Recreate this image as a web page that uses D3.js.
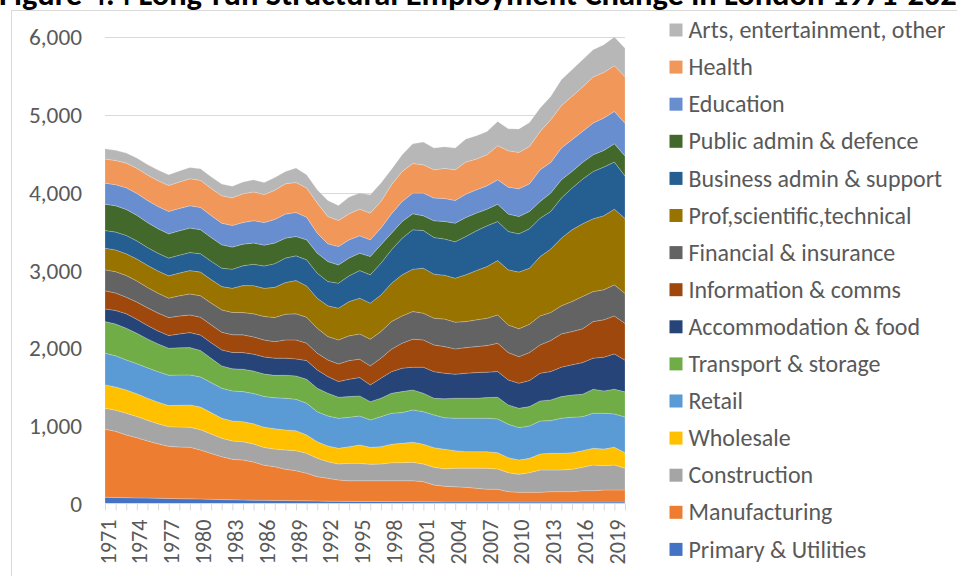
<!DOCTYPE html>
<html><head><meta charset="utf-8">
<script src="https://cdn.jsdelivr.net/npm/d3@7/dist/d3.min.js"></script>
<style>html,body{margin:0;padding:0;background:#fff;overflow:hidden}</style>
</head><body><svg id="c" width="957" height="576"></svg>
<script>
// ---------- DATA ----------
const years = [1971,1972,1973,1974,1975,1976,1977,1978,1979,1980,1981,1982,1983,1984,1985,1986,1987,1988,1989,1990,
  1991,1992,1993,1994,1995,1996,1997,1998,1999,2000,2001,2002,2003,2004,2005,2006,2007,2008,2009,2010,
  2011,2012,2013,2014,2015,2016,2017,2018,2019,2020];
const xTickYears = [1971,1974,1977,1980,1983,1986,1989,1992,1995,1998,2001,2004,2007,2010,2013,2016,2019];
const yTicks = [0,1000,2000,3000,4000,5000,6000];

const seriesNames = ["Primary & Utilities","Manufacturing","Construction","Wholesale","Retail","Transport & storage",
  "Accommodation & food","Information & comms","Financial & insurance","Prof,scientific,technical",
  "Business admin & support","Public admin & defence","Education","Health","Arts, entertainment, other"];

const primary = [80,78,75,72,70,67,65,62,60,58,54,50,48,45,43,42,40,38,36,34,32,30,28,27,26,25,25,24,24,23,22,21,20,20,20,20,20,20,18,18,18,18,18,18,18,18,18,18,18,18];
const manufacturing = [875,850,807,775,735,700,670,665,663,630,590,552,520,515,490,450,434,402,386,355,313,294,274,266,267,268,268,269,269,270,259,217,202,196,188,176,163,163,134,126,126,126,134,134,134,147,147,156,156,156];
const construction = [270,272,279,272,265,258,253,256,258,262,250,237,236,235,232,228,226,249,258,257,237,214,206,224,224,211,215,232,232,237,227,228,224,237,245,257,270,261,245,231,253,287,279,279,288,301,331,313,322,280];
const wholesale = [300,300,300,292,285,278,271,280,287,290,275,258,258,258,260,262,262,257,257,236,213,202,202,214,236,219,223,237,250,258,254,252,252,227,214,214,214,210,193,185,184,206,215,215,214,214,214,214,227,200];
const retail = [408,400,386,388,390,392,391,390,386,388,386,386,386,386,390,395,398,408,404,408,386,386,386,378,373,352,386,399,394,415,419,421,405,417,430,430,430,434,429,416,416,425,420,451,455,437,451,460,429,460];
const transport = [407,408,408,390,372,358,347,350,351,340,312,287,285,288,288,288,288,296,300,308,302,292,271,266,258,235,237,257,270,258,237,215,244,257,257,257,265,279,249,249,249,257,266,278,287,288,309,287,318,322];
const accommodation = [163,175,185,180,172,166,163,178,193,198,202,205,210,214,218,220,221,219,219,240,235,214,201,223,235,215,257,278,301,292,335,342,329,308,321,330,327,330,321,322,335,356,365,378,387,407,399,434,454,408];
const information = [232,225,214,222,228,230,231,230,228,230,229,228,228,228,222,218,213,235,244,224,215,215,227,240,237,245,258,289,322,360,351,344,342,326,330,334,342,364,352,342,360,365,398,428,428,434,471,480,489,472];
const financial = [270,274,279,272,262,255,250,260,270,275,280,287,287,287,297,302,311,331,335,334,322,300,309,318,325,343,342,355,351,356,344,343,354,344,335,344,352,365,356,357,365,373,361,361,386,416,386,386,399,386];
const professional = [279,279,279,282,284,286,287,293,300,305,302,300,310,347,362,362,387,407,429,403,386,395,408,441,460,464,472,494,528,545,579,567,564,566,601,634,665,699,708,730,721,763,816,871,923,935,936,952,974,965];
const businessAdmin = [227,230,236,233,230,228,228,230,232,236,236,237,245,254,275,288,305,314,317,335,322,313,322,331,355,364,408,429,472,506,484,471,466,468,493,511,523,502,493,492,506,494,484,515,536,575,608,627,605,545];
const publicAdmin = [339,338,334,328,320,315,312,313,314,310,305,300,285,279,273,268,264,257,249,257,257,257,235,228,224,235,236,214,214,206,189,215,225,240,244,228,215,223,224,223,223,214,236,235,214,214,215,214,236,257];
const education = [270,272,279,282,285,287,288,288,287,286,282,279,278,278,288,290,305,309,309,292,257,228,236,235,223,215,215,249,257,266,292,292,296,291,301,300,300,313,347,356,356,408,394,408,408,399,408,416,416,421];
const health = [310,310,317,323,328,331,334,340,347,348,350,352,355,369,370,360,374,390,386,374,387,351,335,335,343,344,342,373,385,380,364,364,387,395,412,395,399,438,468,468,480,493,549,545,558,572,592,588,588,600];
const arts = [132,131,130,132,135,137,138,142,146,148,150,150,150,151,155,155,164,158,185,171,171,206,193,215,206,235,237,200,215,255,292,279,278,279,296,300,300,313,283,301,309,301,301,334,343,351,352,356,369,365];

const seriesValues = [primary,manufacturing,construction,wholesale,retail,transport,accommodation,
  information,financial,professional,businessAdmin,publicAdmin,education,health,arts];

// ---------- STYLE ----------
const colors = ["#4472C4","#ED7D31","#A5A5A5","#FFC000","#5B9BD5","#70AD47","#264478","#9E480E",
  "#636363","#997300","#255E91","#43682B","#698ED0","#F1975A","#B7B7B7"];
const FONT = "Carlito, Calibri, Lato, 'Open Sans', sans-serif";
const textColor = "#595959";
const gridColor = "#d9d9d9";

// ---------- BUILD ----------
const svg = d3.select("#c");
svg.append("rect").attr("width",957).attr("height",576).attr("fill","#fff");

// chart border
svg.append("rect").attr("x",11.5).attr("y",10.5).attr("width",1000).attr("height",700)
  .attr("fill","none").attr("stroke",gridColor).attr("stroke-width",1);

// title (clipped at top like the reference)
const title = svg.append("text").attr("x",-1).attr("y",5)
  .attr("font-family",FONT).attr("font-weight","bold").attr("font-size",24).attr("fill","#000")
  .text("Figure 4.4 Long-run Structural Employment Change in London 1971-2020");
// fit width: "…1971-202" prefix ~ 958px
(function(){
  const full = title.node();
  const n = "Figure 4.4 Long-run Structural Employment Change in London 1971-202".length;
  const w = full.getSubStringLength(0, n);
  const fs = 24 * 958 / w;
  title.attr("font-size", fs);
})();

const x = d3.scalePoint().domain(years).range([105, 625]).padding(0);
const y = d3.scaleLinear().domain([0, 6000]).range([503.5, 37]);

// gridlines
svg.append("g").selectAll("line").data(yTicks.filter(d=>d>0)).join("line")
  .attr("x1",105).attr("x2",625)
  .attr("y1",d=>Math.round(y(d))+0.5).attr("y2",d=>Math.round(y(d))+0.5)
  .attr("stroke",gridColor).attr("stroke-width",1);

// stacked areas
const rows = years.map((yr,i)=>{
  const r = {year: yr};
  seriesNames.forEach((s,k)=>{ r[s] = seriesValues[k][i]; });
  return r;
});
const stack = d3.stack().keys(seriesNames)(rows);
const area = d3.area()
  .x(d=>x(d.data.year))
  .y0(d=>y(d[0])).y1(d=>y(d[1]))
  .curve(d3.curveLinear);
svg.append("g").selectAll("path").data(stack).join("path")
  .attr("d",area)
  .attr("fill",(d,i)=>colors[i])
  .attr("stroke","rgba(255,255,255,0.35)").attr("stroke-width",0.6);

// x axis
const xAxis = d3.axisBottom(x).tickSize(7).tickFormat(d=> xTickYears.includes(d) ? d : "");
const gx = svg.append("g").attr("transform","translate(0,503.5)").call(xAxis);
gx.select(".domain").attr("stroke",gridColor).attr("d","M105,0H625");
gx.selectAll(".tick line").attr("stroke",gridColor);
gx.selectAll(".tick text")
  .attr("font-family",FONT).attr("font-size",22.5).attr("fill",textColor)
  .attr("transform","rotate(-90)")
  .attr("text-anchor","end")
  .attr("x",-16).attr("y",0).attr("dy","0.36em")
  .each(function(){ d3.select(this.parentNode); });
gx.selectAll(".tick text").attr("transform","rotate(-90) translate(0,2)");

// y axis labels
const fmt = d3.format(",");
const gy = svg.append("g").call(d3.axisLeft(y).tickValues(yTicks).tickFormat(fmt).tickSize(0))
  .attr("transform","translate(82,0)");
gy.select(".domain").remove();
gy.selectAll(".tick text").attr("font-family",FONT).attr("font-size",23.5).attr("fill",textColor)
  .attr("x",0).attr("dy","0.34em");

// legend
const legendNames = seriesNames.slice().reverse();
const legendColors = colors.slice().reverse();
const lg = svg.append("g");
const items = lg.selectAll("g").data(legendNames).join("g")
  .attr("transform",(d,i)=>`translate(669.5,${30 + i*37.1})`);
items.append("rect").attr("x",0).attr("y",-6.5).attr("width",13).attr("height",13)
  .attr("fill",(d,i)=>legendColors[i]);
const lt = items.append("text").attr("x",19).attr("dy","0.34em")
  .attr("font-family",FONT).attr("font-size",23.5).attr("fill",textColor).text(d=>d);

// fit legend font so the first label is ~257px wide
(function(){
  const w = lt.node().getComputedTextLength();
  const fs = 23.5 * 257 / w;
  lt.attr("font-size", fs);
  // same scale for axes
  const gyt = gy.select(".tick:last-of-type text").node();
  const wy = gyt.getComputedTextLength();
  gy.selectAll(".tick text").attr("font-size", 23.5 * 53 / wy);
  const xt = gx.selectAll(".tick text").filter(d=>d===1971).node();
  const wx = xt.getComputedTextLength();
  gx.selectAll(".tick text").attr("font-size", 22.5 * 45 / wx);
})();
</script></body></html>
